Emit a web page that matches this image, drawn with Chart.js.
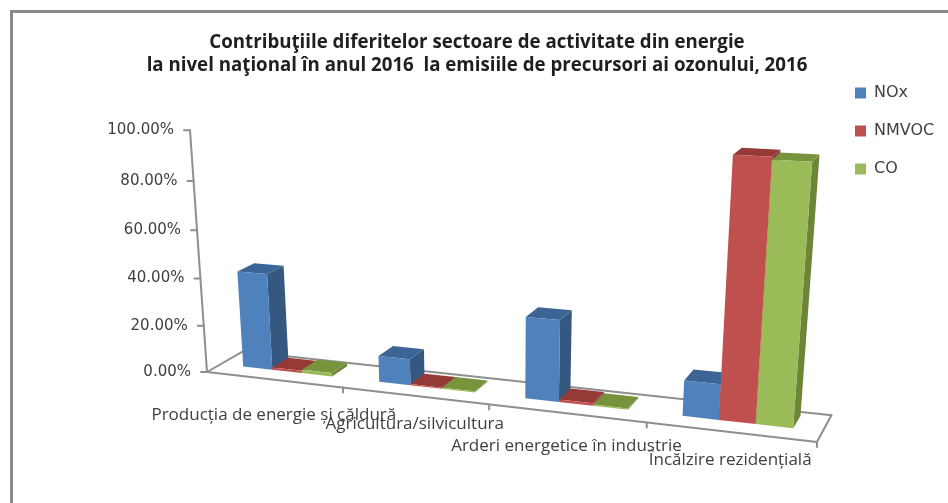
<!DOCTYPE html>
<html>
<head>
<meta charset="utf-8">
<script src="https://cdn.jsdelivr.net/npm/chart.js@4"></script>
<style>
  html, body { margin: 0; background: #fff; }
  #wrap { position: relative; width: 948px; height: 503px; overflow: hidden; }
  #frame { position: absolute; left: 10px; top: 10px; width: 960px; height: 520px; border: 3px solid #8a8a8a; }
  #myChart { position: absolute; left: 0; top: 0; }
</style>
</head>
<body>
<div id="wrap">
  <div id="frame"></div>
  <canvas id="myChart" width="948" height="503"></canvas>
</div>
<script>
const categories = [
  "Producția de energie și căldură",
  "Agricultura/silvicultura",
  "Arderi energetice în industrie",
  "Încălzire rezidențială",
];
const seriesNames = ["NOx", "NMVOC", "CO"];
const noxValues = [41, 11, 33, 14];
const nmvocValues = [1, 0.5, 1, 99];
const coValues = [1.5, 0.5, 0.5, 98];
const titleLines = [
  "Contribuţiile diferitelor sectoare de activitate din energie",
  "la nivel naţional în anul 2016  la emisiile de precursori ai ozonului, 2016",
];

// face colours: front, side, top
const blues = ["#4f81bd", "#34587f", "#3c6595"];
const reds = ["#c0504d", "#8a3836", "#963a38"];
const greens = ["#9bbb59", "#6c8537", "#77933c"];
const axisColor = "#8f8f8f";
const textColor = "#404040";

// vertical drop of each category label below the floor edge
const labelDrop = [35, 28, 33, 28];

// perspective of the plot box: u along categories, w into depth, z up
const floor = { x0: 207, y0: 372, ax: 496.4, ay: 8.6, bx: 45.7, by: -6.5, g: -0.139, h: 0.04 };
const upVanish = { x: 500, y: 4540, i: -0.0548 };

function project(u, w, z) {
  const d = 1 + floor.g * u + floor.h * w + upVanish.i * z;
  return {
    x: (floor.ax * u + floor.bx * w + upVanish.x * upVanish.i * z + floor.x0) / d,
    y: (floor.ay * u + floor.by * w + upVanish.y * upVanish.i * z + floor.y0) / d,
  };
}

function poly(ctx, points, color) {
  ctx.beginPath();
  points.forEach((p, i) => (i ? ctx.lineTo(p.x, p.y) : ctx.moveTo(p.x, p.y)));
  ctx.closePath();
  ctx.fillStyle = color;
  ctx.fill();
}

function line(ctx, a, b) {
  ctx.beginPath();
  ctx.moveTo(a.x, a.y);
  ctx.lineTo(b.x, b.y);
  ctx.stroke();
}

const depthFront = 0.38;
const depthBack = 0.85;

const perspectivePlugin = {
  id: "perspectivePlugin",
  // keep the legend beside the title block, not under it
  afterLayout(chart) {
    chart.legend.left = 833;
    chart.legend.top = 63;
  },
  beforeDatasetsDraw(chart) {
    const ctx = chart.ctx;
    const area = chart.chartArea;
    const xScale = chart.scales.x;
    const yScale = chart.scales.y;
    const toU = (px) => (px - area.left) / area.width;
    const toZ = (py) => (area.bottom - py) / area.height;

    ctx.save();
    ctx.strokeStyle = axisColor;
    ctx.lineWidth = 2;
    ctx.lineCap = "round";

    // floor outline and value axis
    line(ctx, project(0, 0, 0), project(1, 0, 0));
    line(ctx, project(1, 0, 0), project(1, 1, 0));
    line(ctx, project(1, 1, 0), project(0, 1, 0));
    line(ctx, project(0, 1, 0), project(0, 0, 0));
    line(ctx, project(0, 0, 0), project(0, 0, 1));

    ctx.font = "15px 'DejaVu Sans'";
    ctx.fillStyle = textColor;
    ctx.textAlign = "right";
    ctx.textBaseline = "middle";
    yScale.ticks.forEach((tick) => {
      const p = project(0, 0, toZ(yScale.getPixelForValue(tick.value)));
      line(ctx, p, { x: p.x - 6, y: p.y });
      ctx.fillText(tick.label, p.x - 16, p.y);
    });

    // category boundaries on the front edge
    for (let i = 1; i <= categories.length; i++) {
      const p = project(i / categories.length, 0, 0);
      line(ctx, p, { x: p.x, y: p.y + 5 });
    }

    ctx.font = "17px 'Open Sans'";
    ctx.textAlign = "center";
    categories.forEach((name, i) => {
      const p = project(toU(xScale.getPixelForValue(i)), 0, 0);
      ctx.fillText(name, p.x, p.y + labelDrop[i]);
    });

    // bars, one series at a time from left to right so nearer faces cover the rest
    chart.data.datasets.forEach((dataset, d) => {
      chart.getDatasetMeta(d).data.forEach((bar) => {
        const u0 = toU(bar.x - bar.width / 2);
        const u1 = toU(bar.x + bar.width / 2);
        const z = toZ(bar.y);
        const [front, side, top] = dataset.faceColors;
        poly(ctx, [
          project(u1, depthFront, 0), project(u1, depthBack, 0),
          project(u1, depthBack, z), project(u1, depthFront, z),
        ], side);
        poly(ctx, [
          project(u0, depthFront, z), project(u1, depthFront, z),
          project(u1, depthBack, z), project(u0, depthBack, z),
        ], top);
        poly(ctx, [
          project(u0, depthFront, 0), project(u1, depthFront, 0),
          project(u1, depthFront, z), project(u0, depthFront, z),
        ], front);
      });
    });
    ctx.restore();
    return false;
  },
};

new Chart(document.getElementById("myChart"), {
  type: "bar",
  data: {
    labels: categories,
    datasets: [
      { label: seriesNames[0], data: noxValues, backgroundColor: blues[0], faceColors: blues },
      { label: seriesNames[1], data: nmvocValues, backgroundColor: reds[0], faceColors: reds },
      { label: seriesNames[2], data: coValues, backgroundColor: greens[0], faceColors: greens },
    ],
  },
  options: {
    responsive: false,
    animation: false,
    layout: { padding: { left: 6 } },
    categoryPercentage: 0.66,
    barPercentage: 1,
    scales: {
      x: { type: "category", display: false },
      y: {
        type: "linear",
        display: false,
        min: 0,
        max: 100,
        ticks: { stepSize: 20, callback: (v) => v.toFixed(2) + "%" },
      },
    },
    plugins: {
      title: {
        display: true,
        text: titleLines,
        color: "#1f1f1f",
        font: { family: "'Open Sans'", size: 18.7, weight: "bold", lineHeight: 1.23 },
        padding: { top: 31, bottom: 10 },
      },
      legend: {
        position: "right",
        align: "start",
        labels: {
          boxWidth: 11,
          boxHeight: 11,
          padding: 22,
          color: textColor,
          font: { family: "'DejaVu Sans'", size: 16 },
        },
      },
      tooltip: { enabled: false },
    },
  },
  plugins: [perspectivePlugin],
});
</script>
</body>
</html>
